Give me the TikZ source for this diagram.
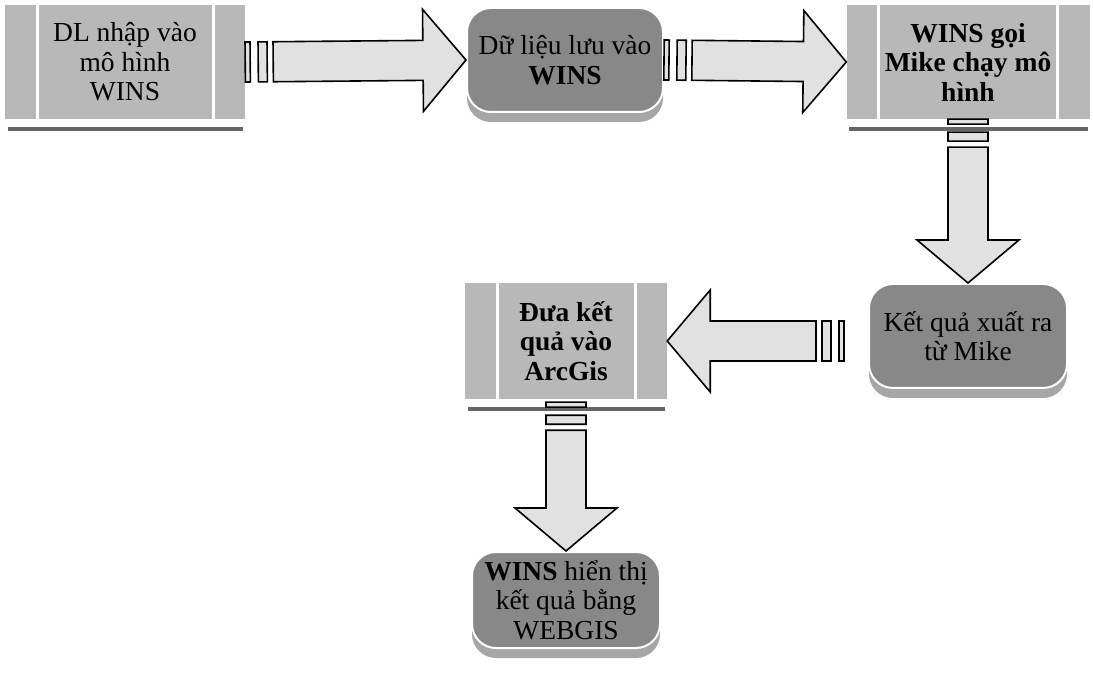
\documentclass[tikz,border=0pt]{standalone}
\usepackage{fontspec}
\setmainfont{Liberation Serif}
\usetikzlibrary{positioning,calc,shadows}

\definecolor{procgray}{HTML}{B8B8B8}
\definecolor{roundgray}{HTML}{888888}
\definecolor{rimgray}{HTML}{A6A6A6}
\definecolor{arrowgray}{HTML}{E1E1E1}

\begin{document}
\begin{tikzpicture}[x=1pt, y=-1pt,
  boxtext/.style={align=center, inner sep=0pt, font=\fontsize{27.5}{29.5}\selectfont},
  procbox/.style={boxtext, rectangle, fill=procgray,
    path picture={\draw[white, line width=3pt]
      ([xshift=32pt]path picture bounding box.south west) -- ([xshift=32pt]path picture bounding box.north west)
      ([xshift=-32pt]path picture bounding box.south east) -- ([xshift=-32pt]path picture bounding box.north east);}},
  roundbox/.style={boxtext, rectangle, rounded corners=24pt, fill=roundgray, draw=white, line width=2pt,
    drop shadow={shadow xshift=0pt, shadow yshift=-10pt, fill=rimgray, opacity=1}},
  shadowline/.style={draw=black!60, line width=4pt},
  stripearrow/.style={draw=black, line width=1.6pt, fill=arrowgray, to path={
    let \p1=(\tikztostart), \p2=(\tikztotarget),
        \n1={atan2(\y2-\y1,\x2-\x1)}, \n2={veclen(\x2-\x1,\y2-\y1)} in
    {[shift={(\p1)}, rotate=\n1]
      (0,-20) rectangle (5,20)
      (13,-20) rectangle (22,20)
      (28,-20) -- (\n2-43,-20) -- (\n2-43,-51) -- (\n2,0) -- (\n2-43,51) -- (\n2-43,20) -- (28,20) -- cycle}}}
]
\useasboundingbox (0,0) rectangle (1093,676);

\node (b1) [procbox, minimum width=240, minimum height=114] at (125,62) {DL nhập vào\\mô hình\\WINS};
\node (b2) [roundbox, minimum width=196, minimum height=104] at (565,60) {Dữ liệu lưu vào\\\textbf{WINS}};
\node (b3) [procbox, minimum width=243, minimum height=114] at (968,62) {\textbf{WINS gọi}\\\textbf{Mike chạy mô}\\\textbf{hình}};
\node (b4) [roundbox, minimum width=198, minimum height=104] at (968,336) {Kết quả xuất ra\\từ Mike};
\node (b5) [procbox, minimum width=202, minimum height=116] at (566,341) {\textbf{Đưa kết}\\\textbf{quả vào}\\\textbf{ArcGis}};
\node (b6) [roundbox, minimum width=188, minimum height=96] at (566,600) {\textbf{WINS} hiển thị\\kết quả bằng\\WEBGIS};

\foreach \b in {b1,b3,b5}
  \draw[shadowline] ([xshift=3pt,yshift=-10pt]\b.south west) -- ([xshift=-2pt,yshift=-10pt]\b.south east);

\draw[stripearrow] (b1.east) to (b2.west);
\draw[stripearrow] (b2.east) to (b3.west);
\draw[stripearrow] (b3.south) to (b4.north);
\draw[stripearrow] ($(b4.west)+(-24,5)$) to (b5.east);
\draw[stripearrow] ([yshift=-3pt]b5.south) to (b6.north);
\end{tikzpicture}
\end{document}
